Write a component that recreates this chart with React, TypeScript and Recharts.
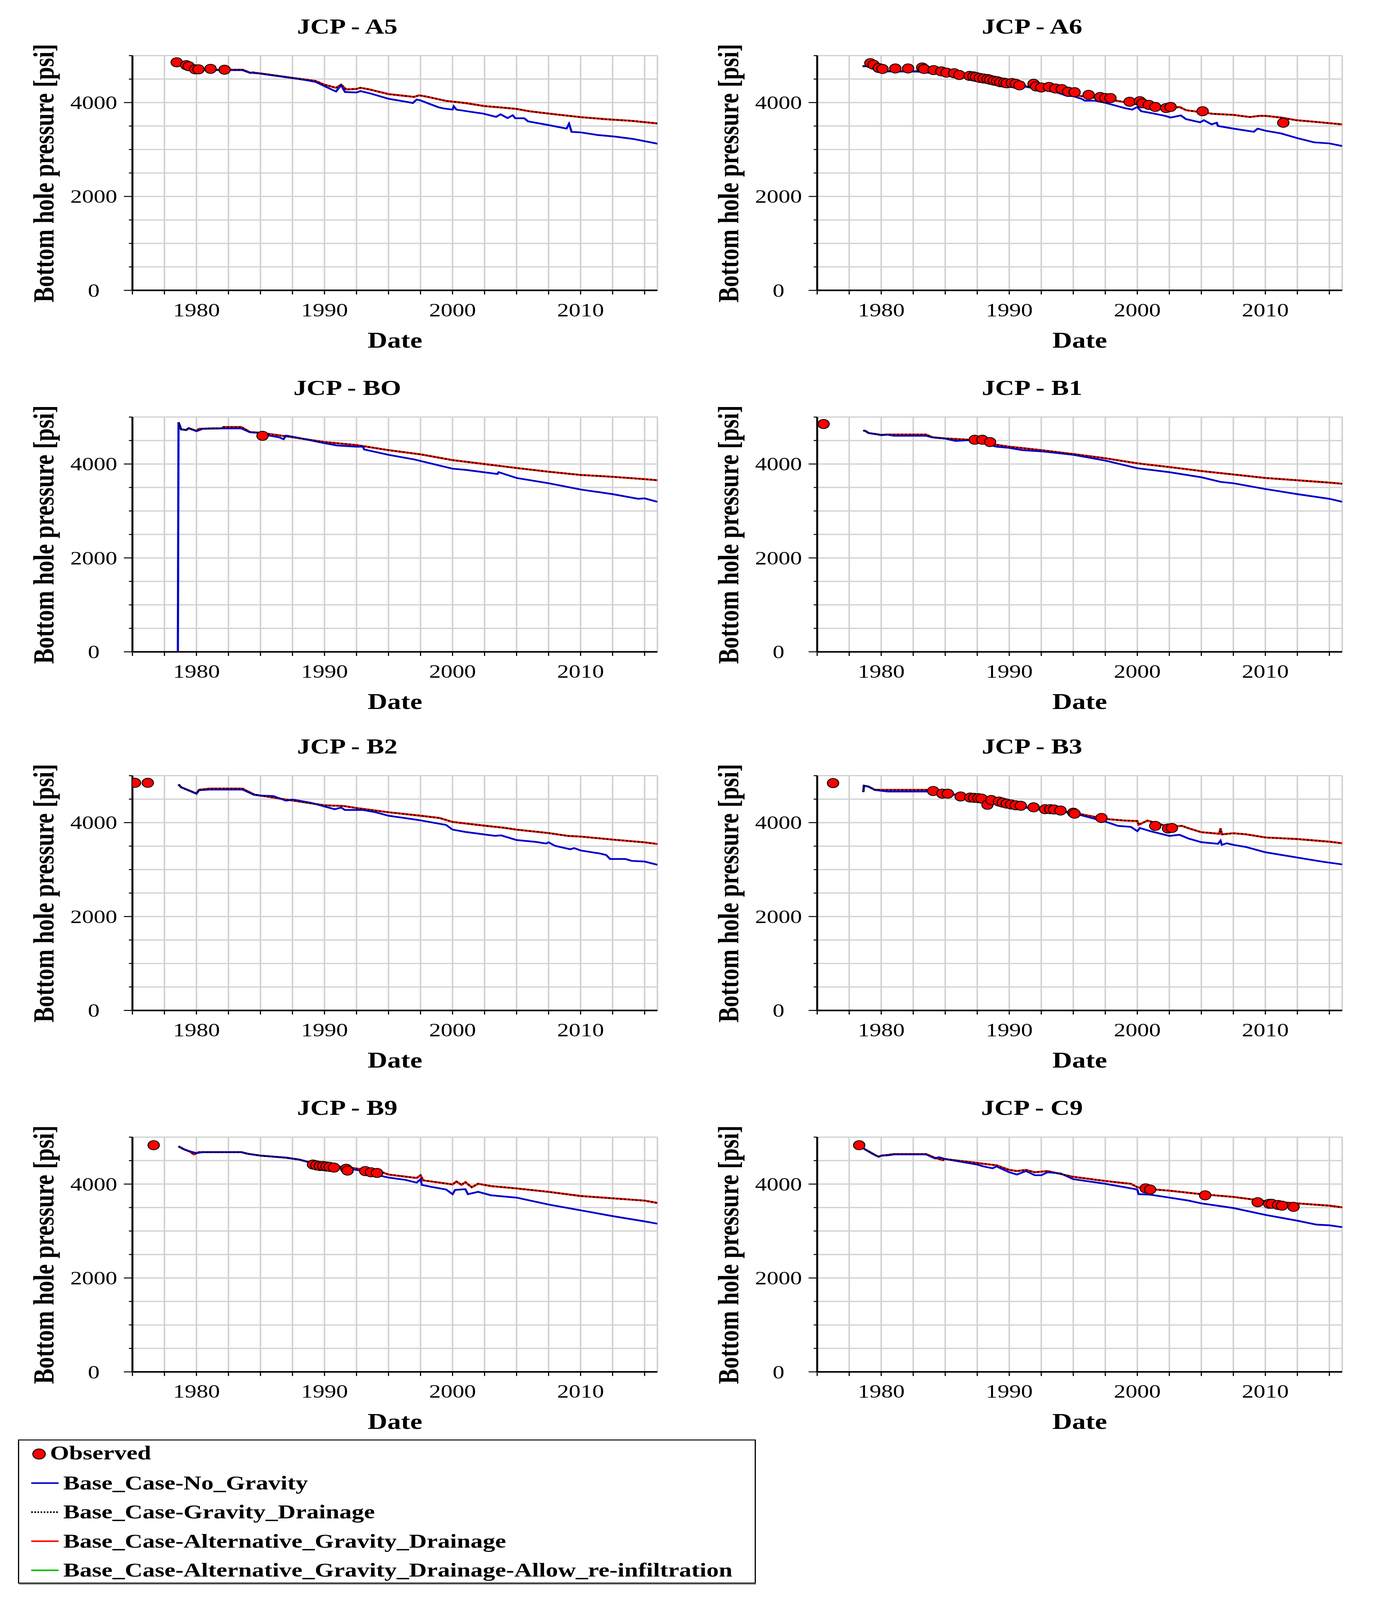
import React from 'react';
import { ComposedChart, Line, Scatter, XAxis, YAxis, CartesianGrid, ReferenceLine } from 'recharts';

type Pt = [number, number];

const SERIF = '"Liberation Serif", "Times New Roman", serif';
const GRID = '#d2d2d2';
const BLUE = '#0000cc';
const RED = '#ff0000';
const GREEN = '#00c000';

const X_TICKS = [1975, 1977.5, 1980, 1982.5, 1985, 1987.5, 1990, 1992.5, 1995, 1997.5, 2000, 2002.5, 2005, 2007.5, 2010, 2012.5, 2015];
const X_LABELS = [1980, 1990, 2000, 2010];
const Y_TICKS = [0, 500, 1000, 1500, 2000, 2500, 3000, 3500, 4000, 4500, 5000];
const Y_LABELS = [0, 2000, 4000];

const SERIES_NAMES = [
  'Observed',
  'Base_Case-No_Gravity',
  'Base_Case-Gravity_Drainage',
  'Base_Case-Alternative_Gravity_Drainage',
  'Base_Case-Alternative_Gravity_Drainage-Allow_re-infiltration',
];

// [year, psi]. The three gravity cases lie on top of each other in the picture,
// so one read-off curve per well is used for all of them.
const A5_NO_GRAVITY: Pt[] = [
  [1978.5, 4830], [1979.2, 4760], [1979.8, 4700], [1980.2, 4690], [1983.6, 4690], [1984.2, 4630], [1984.4, 4645],
  [1985, 4615], [1986.2, 4570], [1987.5, 4520], [1988.5, 4480], [1989.3, 4440], [1990, 4350], [1990.9, 4235],
  [1991.3, 4370], [1991.6, 4225], [1992.5, 4215], [1992.8, 4245], [1993.5, 4200], [1995, 4080], [1996.3, 4020],
  [1996.9, 3990], [1997.2, 4065], [1997.5, 4045], [1998.9, 3900], [1999.3, 3875], [2000, 3850], [2000.1, 3920],
  [2000.3, 3850], [2001.5, 3800], [2002.4, 3765], [2003.4, 3695], [2003.75, 3750], [2004.3, 3670], [2004.7, 3730],
  [2004.9, 3665], [2005.6, 3665], [2005.9, 3600], [2007.5, 3520], [2008.9, 3445], [2009.1, 3550], [2009.3, 3375],
  [2010, 3365], [2011.3, 3310], [2012.7, 3275], [2014.1, 3225], [2016, 3125],
];
const A5_GRAVITY: Pt[] = [
  [1978.5, 4830], [1979.2, 4760], [1979.8, 4700], [1980.2, 4700], [1983.6, 4700], [1984.2, 4635], [1985, 4620],
  [1987.5, 4525], [1988.5, 4490], [1989.3, 4460], [1990, 4380], [1990.9, 4315], [1991.3, 4380], [1991.7, 4280],
  [1992.5, 4290], [1992.8, 4315], [1993.5, 4280], [1995, 4180], [1996, 4150], [1997, 4120], [1997.4, 4155],
  [1998, 4125], [1999.5, 4035], [2001, 3990], [2002.5, 3925], [2004, 3890], [2005, 3865], [2006, 3815],
  [2008, 3750], [2010, 3690], [2012, 3645], [2014, 3610], [2016, 3555],
];
const A5_OBSERVED: Pt[] = [
  [1978.46, 4858], [1979.2, 4797], [1979.4, 4775], [1979.9, 4707], [1980.16, 4707], [1981.1, 4719], [1982.2, 4700],
];

const A6_NO_GRAVITY: Pt[] = [
  [1978.55, 4775], [1979.1, 4775], [1980, 4663], [1982.8, 4660], [1985, 4602], [1986.2, 4557], [1987.5, 4501],
  [1990, 4400], [1992.5, 4276], [1993.8, 4209], [1994.5, 4142], [1995, 4137], [1995.7, 4074], [1995.9, 4040],
  [1996.7, 4040], [1997.5, 3996], [1999, 3883], [1999.6, 3850], [2000, 3906], [2000.3, 3816], [2001.2, 3771],
  [2002.2, 3715], [2002.6, 3681], [2003.4, 3726], [2003.8, 3647], [2004.9, 3580], [2005.2, 3625], [2005.8, 3535],
  [2006.2, 3570], [2006.3, 3501], [2007.5, 3445], [2009.1, 3378], [2009.4, 3445], [2010, 3400], [2011.2, 3344],
  [2012.5, 3243], [2013.8, 3153], [2015, 3130], [2016, 3074],
];
const A6_GRAVITY: Pt[] = [
  [1978.55, 4775], [1979.1, 4775], [1980, 4670], [1982.8, 4668], [1985, 4610], [1987.5, 4510], [1990, 4410],
  [1992.5, 4290], [1994.5, 4187], [1996, 4120], [1997.5, 4080], [1998.6, 4029], [2000, 3962], [2001.2, 3906],
  [2002.5, 3872], [2003.3, 3906], [2003.8, 3838], [2005, 3793], [2005.9, 3760], [2007.5, 3737], [2008.8, 3692],
  [2009.6, 3719], [2010.1, 3715], [2011.2, 3681], [2012.4, 3625], [2013.8, 3591], [2016, 3535],
];
const A6_OBSERVED: Pt[] = [
  [1979.15, 4838], [1979.4, 4805], [1979.8, 4737], [1980.1, 4715], [1981.1, 4726], [1982.1, 4726], [1983.2, 4748],
  [1983.35, 4715], [1984.1, 4692], [1984.7, 4663], [1985.1, 4636], [1985.7, 4625], [1986.1, 4587], [1986.9, 4569],
  [1987.2, 4557], [1987.4, 4546], [1987.7, 4524], [1988.0, 4512], [1988.3, 4501], [1988.5, 4485], [1988.8, 4467],
  [1989.05, 4456], [1989.3, 4434], [1989.6, 4423], [1989.8, 4411], [1990.2, 4416], [1990.5, 4400], [1990.8, 4366],
  [1991.9, 4400], [1992.1, 4344], [1992.5, 4321], [1993.1, 4333], [1993.6, 4299], [1994.1, 4288], [1994.6, 4232],
  [1995.1, 4220], [1996.2, 4164], [1997.1, 4119], [1997.5, 4097], [1997.9, 4097], [1999.4, 4018], [2000.2, 4029],
  [2000.4, 3984], [2000.9, 3951], [2001.4, 3906], [2002.25, 3883], [2002.6, 3906], [2005.1, 3816], [2011.4, 3569],
];

const B0_NO_GRAVITY: Pt[] = [
  [1978.55, 0], [1978.6, 4887], [1978.8, 4739], [1979.2, 4724], [1979.4, 4763], [1980, 4699], [1980.5, 4749],
  [1981, 4758], [1983.5, 4758], [1984.2, 4675], [1985, 4665], [1985.5, 4615], [1986.5, 4566], [1986.8, 4527],
  [1987, 4606], [1988, 4556], [1990, 4443], [1991, 4394], [1992.5, 4369], [1993, 4369], [1993.1, 4310],
  [1995, 4196], [1997, 4098], [2000, 3900], [2001, 3876], [2003.5, 3787], [2003.6, 3826], [2005, 3703],
  [2007.5, 3590], [2010, 3457], [2012.5, 3358], [2014.5, 3259], [2015, 3268], [2016, 3195],
];
const B0_GRAVITY: Pt[] = [
  [1978.6, 4887], [1978.8, 4739], [1979.2, 4724], [1979.4, 4763], [1980, 4705], [1980.2, 4750], [1982, 4760],
  [1982.1, 4788], [1983.5, 4788], [1984.2, 4680], [1985, 4665], [1987, 4591], [1990, 4468], [1992.5, 4403],
  [1995, 4295], [1997.5, 4206], [2000, 4083], [2002.5, 3999], [2005, 3915], [2007.5, 3836], [2010, 3767],
  [2012.5, 3728], [2015, 3678], [2016, 3654],
];
const B0_OBSERVED: Pt[] = [[1985.16, 4601]];

const B1_NO_GRAVITY: Pt[] = [
  [1978.6, 4714], [1978.8, 4700], [1979, 4660], [1979.5, 4640], [1980, 4615], [1980.5, 4625], [1981, 4601],
  [1983.5, 4601], [1984, 4566], [1985, 4541], [1985.8, 4492], [1986.5, 4502], [1987, 4510], [1988, 4443],
  [1989, 4369], [1990, 4344], [1991, 4295], [1992.5, 4270], [1995, 4196], [1997.5, 4073], [2000, 3910],
  [2002.5, 3826], [2005, 3718], [2006.5, 3619], [2007.5, 3590], [2010, 3467], [2012.5, 3358], [2015, 3259],
  [2016, 3195],
];
const B1_GRAVITY: Pt[] = [
  [1978.6, 4714], [1978.8, 4700], [1979, 4660], [1979.5, 4640], [1980, 4620], [1980.5, 4628], [1983.5, 4628],
  [1984, 4570], [1985, 4545], [1987, 4515], [1988, 4450], [1990, 4369], [1992.5, 4295], [1995, 4211],
  [1997.5, 4122], [2000, 4014], [2002.5, 3935], [2005, 3851], [2007.5, 3777], [2010, 3703], [2012.5, 3654],
  [2015, 3604], [2016, 3580],
];
const B1_OBSERVED: Pt[] = [[1975.5, 4852], [1987.3, 4517], [1987.9, 4517], [1988.5, 4467]];

const B2_NO_GRAVITY: Pt[] = [
  [1978.6, 4813], [1978.8, 4754], [1979.5, 4675], [1980, 4615], [1980.2, 4689], [1981, 4704], [1983.6, 4704],
  [1984.5, 4591], [1985, 4576], [1986, 4566], [1987, 4467], [1987.5, 4492], [1988, 4467], [1989, 4418],
  [1990, 4344], [1990.8, 4285], [1991.3, 4320], [1991.6, 4270], [1993, 4270], [1994, 4221], [1995, 4147],
  [1997.5, 4048], [1999.5, 3950], [2000, 3851], [2001, 3802], [2003.3, 3718], [2003.8, 3728], [2005, 3629],
  [2006.5, 3590], [2007.3, 3555], [2007.5, 3580], [2008, 3506], [2009.2, 3432], [2009.5, 3457], [2010, 3407],
  [2011.5, 3343], [2012, 3309], [2012.3, 3225], [2013.5, 3225], [2014, 3185], [2015, 3171], [2016, 3102],
];
const B2_GRAVITY: Pt[] = [
  [1978.6, 4813], [1978.8, 4754], [1979.5, 4675], [1980, 4620], [1980.2, 4699], [1981, 4724], [1983.6, 4724],
  [1984.5, 4600], [1985, 4576], [1987, 4492], [1990, 4369], [1991.5, 4354], [1992.5, 4310], [1995, 4221],
  [1997.5, 4147], [1999, 4098], [2000, 4014], [2002.5, 3935], [2004, 3891], [2005, 3851], [2007.5, 3777],
  [2009, 3718], [2010, 3703], [2012.5, 3639], [2015, 3580], [2016, 3545],
];
const B2_OBSERVED: Pt[] = [[1975.2, 4847], [1976.2, 4847]];

const B3_NO_GRAVITY: Pt[] = [
  [1978.6, 4650], [1978.65, 4786], [1979, 4768], [1979.5, 4696], [1980, 4678], [1980.5, 4662], [1984, 4662],
  [1985, 4617], [1987, 4550], [1990, 4359], [1992.5, 4280], [1995, 4201], [1997.5, 4021], [1998.5, 3931],
  [1999.5, 3909], [2000, 3819], [2000.2, 3886], [2001, 3819], [2002.5, 3717], [2003.3, 3740], [2004, 3661],
  [2005, 3583], [2006.3, 3549], [2006.5, 3616], [2006.6, 3526], [2007, 3560], [2007.5, 3526], [2008.5, 3481],
  [2010, 3369], [2012.5, 3256], [2014.5, 3166], [2016, 3110],
];
const B3_GRAVITY: Pt[] = [
  [1978.6, 4650], [1978.65, 4786], [1979, 4768], [1979.5, 4700], [1980, 4696], [1984, 4696], [1985, 4629],
  [1987, 4555], [1990, 4370], [1992.5, 4303], [1995, 4212], [1997.5, 4078], [1999, 4044], [2000, 4033],
  [2000.1, 3954], [2000.8, 4044], [2002.5, 3909], [2003.5, 3931], [2004, 3880], [2005, 3796], [2006.4, 3763],
  [2006.5, 3875], [2006.6, 3750], [2007.5, 3774], [2008.5, 3751], [2010, 3684], [2012.5, 3650], [2015, 3594],
  [2016, 3560],
];
const B3_OBSERVED: Pt[] = [
  [1976.24, 4842], [1984.06, 4674], [1984.77, 4617], [1985.2, 4617], [1986.2, 4557], [1986.95, 4534],
  [1987.26, 4527], [1987.58, 4521], [1987.84, 4512], [1988.3, 4381], [1988.6, 4482], [1989.2, 4449],
  [1989.5, 4426], [1989.8, 4404], [1990.15, 4386], [1990.5, 4370], [1990.9, 4359], [1991.9, 4325],
  [1992.8, 4287], [1993.2, 4287], [1993.5, 4280], [1994.0, 4258], [1995.0, 4212], [1995.1, 4190],
  [1997.2, 4100], [2001.4, 3931], [2002.4, 3875], [2002.7, 3886],
];

const B9_NO_GRAVITY: Pt[] = [
  [1978.6, 4803], [1979, 4744], [1979.5, 4695], [1980, 4660], [1980.5, 4680], [1983.5, 4680], [1984, 4646],
  [1985, 4606], [1987, 4562], [1988, 4523], [1988.7, 4474], [1989, 4415], [1990, 4375], [1992, 4326],
  [1993.5, 4252], [1994.5, 4169], [1995, 4139], [1996.3, 4090], [1997.2, 4031], [1997.5, 4105], [1997.6, 3982],
  [1998.5, 3933], [1999.5, 3884], [2000, 3785], [2000.2, 3874], [2001, 3893], [2001.2, 3785], [2002, 3834],
  [2003, 3761], [2005, 3711], [2007.5, 3564], [2010, 3441], [2012.5, 3318], [2015, 3205], [2016, 3156],
];
const B9_GRAVITY: Pt[] = [
  [1978.6, 4803], [1979, 4744], [1979.5, 4690], [1979.8, 4631], [1980.2, 4680], [1983.5, 4680], [1984, 4646],
  [1985, 4606], [1987, 4562], [1988, 4523], [1988.7, 4474], [1989, 4430], [1990, 4400], [1992, 4351],
  [1994.5, 4252], [1995, 4203], [1997.2, 4129], [1997.5, 4188], [1997.7, 4080], [2000, 3992], [2000.3, 4056],
  [2000.7, 3982], [2001, 4041], [2001.5, 3933], [2002, 4007], [2003, 3957], [2005, 3908], [2007.5, 3834],
  [2010, 3746], [2012.5, 3697], [2015, 3648], [2016, 3598],
];
const B9_OBSERVED: Pt[] = [
  [1976.66, 4827], [1989.1, 4415], [1989.36, 4400], [1989.64, 4385], [1989.9, 4385], [1990.15, 4375],
  [1990.4, 4365], [1990.74, 4351], [1991.7, 4326], [1991.8, 4287], [1993.18, 4277], [1993.63, 4252], [1994.1, 4238],
];

const C9_NO_GRAVITY: Pt[] = [
  [1978.3, 4818], [1978.8, 4729], [1979.5, 4621], [1979.8, 4582], [1980, 4606], [1980.5, 4611], [1981, 4631],
  [1983.5, 4631], [1984.2, 4547], [1984.5, 4572], [1985, 4533], [1987.5, 4415], [1988, 4375], [1988.7, 4336],
  [1989, 4375], [1990, 4252], [1990.6, 4203], [1991.3, 4277], [1992, 4188], [1992.5, 4188], [1993, 4252],
  [1994, 4228], [1995, 4105], [1997.5, 4006], [2000, 3884], [2000.1, 3785], [2001, 3775], [2002.5, 3712],
  [2004, 3648], [2005, 3589], [2007.5, 3490], [2010, 3343], [2012.5, 3220], [2014, 3136], [2015, 3122], [2016, 3082],
];
const C9_GRAVITY: Pt[] = [
  [1978.3, 4818], [1978.8, 4729], [1979.5, 4621], [1979.8, 4582], [1980, 4606], [1980.5, 4620], [1981, 4640],
  [1983.5, 4640], [1984.2, 4560], [1984.8, 4508], [1985, 4533], [1987.5, 4449], [1989, 4400], [1990, 4302],
  [1990.6, 4277], [1991.3, 4302], [1992, 4252], [1993, 4277], [1995, 4154], [1997.5, 4066], [1999.5, 4006],
  [2000, 3933], [2001, 3893], [2002.5, 3859], [2005, 3785], [2007.5, 3726], [2010, 3638], [2012.5, 3589],
  [2015, 3540], [2016, 3505],
];
const C9_OBSERVED: Pt[] = [
  [1978.28, 4827], [2000.65, 3908], [2001.0, 3884], [2005.3, 3761], [2009.4, 3613], [2010.3, 3579],
  [2010.5, 3579], [2011.0, 3554], [2011.3, 3540], [2012.2, 3515],
];

const WELLS = [
  { title: 'JCP - A5', noGravity: A5_NO_GRAVITY, gravity: A5_GRAVITY, observed: A5_OBSERVED },
  { title: 'JCP - A6', noGravity: A6_NO_GRAVITY, gravity: A6_GRAVITY, observed: A6_OBSERVED },
  { title: 'JCP - BO', noGravity: B0_NO_GRAVITY, gravity: B0_GRAVITY, observed: B0_OBSERVED },
  { title: 'JCP - B1', noGravity: B1_NO_GRAVITY, gravity: B1_GRAVITY, observed: B1_OBSERVED },
  { title: 'JCP - B2', noGravity: B2_NO_GRAVITY, gravity: B2_GRAVITY, observed: B2_OBSERVED },
  { title: 'JCP - B3', noGravity: B3_NO_GRAVITY, gravity: B3_GRAVITY, observed: B3_OBSERVED },
  { title: 'JCP - B9', noGravity: B9_NO_GRAVITY, gravity: B9_GRAVITY, observed: B9_OBSERVED },
  { title: 'JCP - C9', noGravity: C9_NO_GRAVITY, gravity: C9_GRAVITY, observed: C9_OBSERVED },
];

const PAGE_W = 3520;
const PAGE_H = 5064;
const PANEL_W = 1760;
const PANEL_H = 1144;
const COL_X = [0, 1753];
const ROW_Y = [0, 1144, 2279, 3423];
const MARGIN = { top: 176, right: 77, bottom: 105, left: 239 };

// the page keeps the browser's 8px body margin otherwise
if (typeof document !== 'undefined') {
  document.body.style.margin = '0';
}

// the browser window is clamped to the screen height (4096 here), so the
// figure is squeezed vertically to keep all of it inside the photograph
const viewH = typeof window !== 'undefined' && window.innerHeight > 0 ? window.innerHeight : PAGE_H;
const SCALE_Y = Math.min(1, viewH / PAGE_H);

const toRows = (pts: Pt[]) => pts.map(([t, p]) => ({ t, p }));

const XTick = (props: any) => {
  const { x, y, payload } = props;
  const v = payload.value;
  const major = X_LABELS.includes(v);
  return (
    <g>
      <line x1={x} y1={y} x2={x} y2={y + 13} stroke="#000" strokeWidth={3} />
      {major && (
        <text x={x} y={y + 82} textAnchor="middle" fontSize={60} fontFamily={SERIF} fill="#000">
          {v}
        </text>
      )}
    </g>
  );
};

const YTick = (props: any) => {
  const { x, y, payload } = props;
  const v = payload.value;
  const major = Y_LABELS.includes(v);
  return (
    <g>
      <line x1={x} y1={y} x2={x - (major ? 22 : 9)} y2={y} stroke="#000" strokeWidth={3} />
      {major && (
        <text x={x - 99} y={y} dy="0.34em" textAnchor="middle" fontSize={60} fontFamily={SERIF} fill="#000">
          {v}
        </text>
      )}
    </g>
  );
};

const ObservedDot = (props: any) => (
  <circle cx={props.cx} cy={props.cy} r={14.5} fill={RED} stroke="#000" strokeWidth={2.5} />
);

const WellPanel = ({ well, left, top }: { well: (typeof WELLS)[number]; left: number; top: number }) => {
  const noGravity = toRows(well.noGravity);
  const gravity = toRows(well.gravity);
  const observed = toRows(well.observed);
  return (
    <div style={{ position: 'absolute', left, top, width: PANEL_W, height: PANEL_H }}>
      <ComposedChart width={PANEL_W} height={PANEL_H} margin={MARGIN}>
        <CartesianGrid stroke={GRID} strokeWidth={4} />
        <ReferenceLine x={2016} stroke={GRID} strokeWidth={4} />
        <XAxis
          dataKey="t"
          type="number"
          domain={[1975, 2016]}
          allowDataOverflow
          ticks={X_TICKS}
          interval={0}
          tick={<XTick />}
          tickLine={false}
          tickSize={0}
          tickMargin={0}
          axisLine={{ stroke: '#000', strokeWidth: 5 }}
          height={120}
        />
        <YAxis
          dataKey="p"
          type="number"
          domain={[0, 5000]}
          allowDataOverflow
          ticks={Y_TICKS}
          interval={0}
          tick={<YTick />}
          tickLine={false}
          tickSize={0}
          tickMargin={0}
          axisLine={{ stroke: '#000', strokeWidth: 5 }}
          width={100}
        />
        <Line data={gravity} dataKey="p" name={SERIES_NAMES[4]} stroke={GREEN} strokeWidth={6} dot={false} isAnimationActive={false} />
        <Line data={gravity} dataKey="p" name={SERIES_NAMES[3]} stroke={RED} strokeWidth={6} dot={false} isAnimationActive={false} />
        <Line data={noGravity} dataKey="p" name={SERIES_NAMES[1]} stroke={BLUE} strokeWidth={5.5} dot={false} isAnimationActive={false} />
        <Line data={gravity} dataKey="p" name={SERIES_NAMES[2]} stroke="#000" strokeWidth={4.5} strokeDasharray="4 6" dot={false} isAnimationActive={false} />
        <Scatter data={observed} dataKey="p" name={SERIES_NAMES[0]} shape={ObservedDot} isAnimationActive={false} />
      </ComposedChart>
      <svg width={PANEL_W} height={PANEL_H} style={{ position: 'absolute', left: 0, top: 0, pointerEvents: 'none' }}>
        <text x={889} y={106} textAnchor="middle" fontSize={68} fontWeight="bold" fontFamily={SERIF} fill="#000">
          {well.title}
        </text>
        <text
          x={112}
          y={548}
          transform="rotate(-90, 112, 548)"
          textAnchor="middle"
          dominantBaseline="central"
          fontSize={73}
          fontWeight="bold"
          fontFamily={SERIF}
          fill="#000"
        >
          Bottom hole pressure [psi]
        </text>
        <text x={1011} y={1100} textAnchor="middle" fontSize={70} fontWeight="bold" fontFamily={SERIF} fill="#000">
          Date
        </text>
      </svg>
    </div>
  );
};

const LEGEND_LINES = [
  { name: SERIES_NAMES[1], color: BLUE, dash: undefined },
  { name: SERIES_NAMES[2], color: '#000', dash: '4 4' },
  { name: SERIES_NAMES[3], color: RED, dash: undefined },
  { name: SERIES_NAMES[4], color: GREEN, dash: undefined },
];

const FigureLegend = () => (
  <svg width={1892} height={462} style={{ position: 'absolute', left: 46, top: 4556 }}>
    <rect x={1.5} y={1.5} width={1886} height={453} fill="#fff" stroke="#000" strokeWidth={3} />
    <line x1={3} y1={458} x2={1889} y2={458} stroke="#999" strokeWidth={4} />
    <circle cx={54} cy={46} r={16} fill={RED} stroke="#000" strokeWidth={2.5} />
    <text x={82} y={63} fontSize={63} fontWeight="bold" fontFamily={SERIF} fill="#000">
      {SERIES_NAMES[0]}
    </text>
    {LEGEND_LINES.map((s, i) => {
      const cy = 138 + i * 92;
      return (
        <g key={s.name}>
          <line x1={34} y1={cy} x2={104} y2={cy} stroke={s.color} strokeWidth={5} strokeDasharray={s.dash} />
          <text x={116} y={cy + 20} fontSize={63} fontWeight="bold" fontFamily={SERIF} fill="#000">
            {s.name}
          </text>
        </g>
      );
    })}
  </svg>
);

export default function App() {
  return (
    <div style={{ position: 'relative', width: PAGE_W, height: Math.floor(PAGE_H * SCALE_Y), overflow: 'hidden', background: '#fff' }}>
      <div
        style={{
          position: 'absolute',
          left: 0,
          top: 0,
          width: PAGE_W,
          height: PAGE_H,
          transform: `scale(1, ${SCALE_Y})`,
          transformOrigin: '0 0',
        }}
      >
        {WELLS.map((well, i) => (
          <WellPanel key={well.title} well={well} left={COL_X[i % 2]} top={ROW_Y[Math.floor(i / 2)]} />
        ))}
        <FigureLegend />
      </div>
    </div>
  );
}
